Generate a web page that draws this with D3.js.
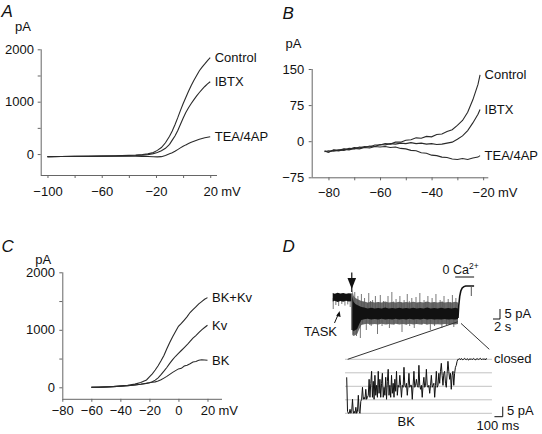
<!DOCTYPE html>
<html><head><meta charset="utf-8">
<script src="https://cdn.jsdelivr.net/npm/d3@7"></script>
<style>
body{margin:0;background:#fff}
svg text{font-family:"Liberation Sans",Arial,Helvetica,sans-serif;fill:#111}
</style>
</head><body>
<svg id="c" width="542" height="434"></svg>
<script>
// ---------------- Panel A data ----------------
const aVoltage = [-100,-90,-80,-70,-60,-50,-40,-35,-30,-26,-22,-19,-16,-13,-10,-8,-6,-4,-2,0,2,4,6,8,10,12,14,16,18,20];
const aControl = [-50,-47,-44,-41,-37,-32,-25,-19,-10,3,30,70,125,215,340,440,560,690,830,960,1080,1200,1310,1410,1500,1590,1660,1720,1785,1840];
const aIBTX    = [-50,-47,-44,-42,-40,-37,-32,-28,-21,-11,8,30,65,110,185,265,345,445,565,685,795,885,965,1040,1110,1175,1235,1290,1340,1380];
const aTEA     = [-50,-48,-46,-44,-42,-41,-40,-41,-44,-48,-52,-54,-50,-28,5,25,52,85,118,148,175,200,225,245,265,282,298,310,320,330];
const aNames = ["Control","IBTX","TEA/4AP"];
const aXTicks = [-100,-80,-60,-40,-20,0,20];
const aXLabels = [-100,-60,-20,20];
const aYTicks = [0,500,1000,1500,2000];
const aYLabels = [0,1000,2000];

// ---------------- Panel B data ----------------
const bVoltage = [-81.5,-80,-78,-76,-74,-72,-70,-68,-66,-64,-62,-60,-58,-56,-54,-52,-50,-48,-46,-44,-42,-40,-38,-36,-34,-32,-30,-28,-26,-24,-22,-21.2];
const bControl = [-20,-23,-18,-19,-16,-17,-13,-14,-11,-12,-8,-8,-5,-6,-2,-2,2,3,7,6,10,9,14,15,20,24,33,43,60,86,118,138];
const bIBTX    = [-22,-20,-21,-18,-19,-15,-16,-12,-13,-10,-11,-7,-8,-5,-6,-4,-5,-3,-5,-4,-6,-5,-7,-6,-4,-2,4,11,22,38,56,66];
const bTEA     = [-21,-23,-19,-20,-17,-18,-15,-16,-13,-14,-11,-12,-11,-13,-12,-15,-16,-19,-20,-24,-25,-29,-30,-33,-34,-37,-38,-36,-38,-35,-33,-30];
const bNames = ["Control","IBTX","TEA/4AP"];
const bXTicks = [-80,-70,-60,-50,-40,-30,-20];
const bXLabels = [-80,-60,-40,-20];
const bYTicks = [-75,0,75,150];
const bYLabels = [-75,0,75,150];

// ---------------- Panel C data ----------------
const cVoltage = [-60,-55,-50,-45,-40,-35,-30,-26,-22,-20,-18,-16,-14,-12,-10,-8,-6,-4,-2,0,2,4,6,8,10,12,14,16,18,20];
const cBKKv = [0,3,8,15,25,35,55,85,127,180,235,300,375,460,555,670,780,880,970,1060,1110,1170,1230,1300,1350,1400,1450,1490,1530,1560];
const cKv   = [0,2,6,11,18,27,40,52,68,80,95,125,165,220,280,345,415,480,540,590,640,690,740,800,855,900,950,1000,1040,1080];
const cBK   = [0,2,6,11,18,27,40,52,70,80,88,95,110,130,160,190,225,260,290,320,330,370,385,410,440,450,470,480,475,470];
const cNames = ["BK+Kv","Kv","BK"];
const cXTicks = [-80,-60,-40,-20,0,20];
const cXLabels = [-80,-60,-40,-20,0,20];
const cYTicks = [0,500,1000,1500,2000];
const cYLabels = [0,1000,2000];

// ---------------- Panel D data (top trace: s, pA) ----------------
const dTaskTime = [0,0.6,1.4,2.2,3.0,3.8,4.6,5.3];
const dTaskHi   = [-3.5,-3.9,-3.4,-3.8,-3.5,-3.9,-3.6,-3.7];
const dTaskLo   = [-7.8,-7.4,-8.0,-7.5,-7.9,-7.4,-7.8,-7.6];
const dTaskSpikes = [[0.15,-11.5],[0.9,-9.5],[1.7,-10],[2.6,-9],[3.5,-9.8],[4.3,-9.2],[5.0,-10.5]];
const dMainTime = [5.6,6.0,6.5,7.0,7.6,8.2,9,10,11,12,13,14,15,16,17,18,19,20,21,22,23,24,25,26,27,28,29,30,31,32,33,34,35,35.8];
const dMainHi = [-5,-8,-9,-9.5,-10,-10.5,-10.8,-11.2,-10.9,-11.3,-11,-11.2,-10.8,-11.3,-11,-11.2,-10.9,-11.3,-11,-11.2,-10.9,-11.3,-11,-11.2,-10.8,-11.3,-11,-11.2,-10.9,-11.3,-11,-11.2,-10.9,-11.2];
const dMainLo = [-22,-22.5,-22,-21.5,-19,-17,-16.6,-16.4,-16.8,-16.5,-16.7,-16.4,-16.8,-16.5,-16.7,-16.4,-16.8,-16.5,-16.7,-16.4,-16.8,-16.5,-16.7,-16.4,-16.8,-16.5,-16.7,-16.6,-16.8,-16.5,-16.7,-16.6,-16.8,-16.5];
const dMainSpikes = [[6.3,-3],[7.2,-5],[8.2,-4],[9.1,-6],[10.3,-3.5],[11.4,-7],[12.2,-5],[13.6,-4.5],[14.5,-7.5],[15.8,-5],[16.9,-3],[18.1,-6.5],[19.2,-5],[20.4,-7],[21.3,-4],[22.6,-6],[23.8,-5.5],[24.9,-3.5],[26.1,-7],[27.2,-5],[28.4,-6],[29.5,-4],[30.7,-7],[31.8,-5],[33.0,-6.5],[34.2,-4.5],[35.2,-6],
  [8.7,-8],[9.9,-8.5],[10.8,-7.5],[13.0,-8],[15.1,-8.5],[17.4,-7.8],[19.7,-8.2],[21.9,-7.6],[24.3,-8.4],[26.6,-7.9],[28.9,-8.3],[31.3,-7.7],[33.6,-8.1],
  [5.9,-24],[6.8,-25],[7.9,-26],[9.6,-22],[11.0,-20],[12.8,-24],[14.1,-20],[16.2,-21],[17.5,-19.5],[19.8,-23],[22.0,-20],[23.3,-21],[25.5,-19.5],[27.9,-22],[29.1,-20],[31.2,-21],[32.5,-19.5],[34.6,-20.5],
  [8.5,-19],[10.6,-19.5],[13.3,-18.8],[15.5,-19.2],[18.6,-18.9],[21.0,-19.4],[24.0,-19],[26.9,-19.3],[30.1,-18.8],[33.3,-19.2]];
const dEndTime = [35.8,36.0,36.3,36.6,37.0,37.5,38.0,40.4];
const dEndCur  = [-16,-10,-5,-2.5,-1,-0.3,0,0];
const dStepTime = 39.6, dStepCur = -5;
const dArrowTime = 5.45;
// bottom trace (ms, pA), sampled every 10 ms
const botSampleMs = 10;
const botCurrent = [-9,-26,-27,
  -27,-25,-27,-26,-20,-27,-26,-27,-24,-27,-26,-18,-26,-27,
  -21,-20,-14,-20,-19,-20,-15,-20,-19,
  -18,-10,-19,-12,-6,-19,-11,-20,-8,-18,-13,-19,-6,-17,-10,-19,-12,-7,-19,-14,-18,-9,-20,-11,-5,-18,-13,-19,-8,-17,-12,-19,-10,-16,-6,-18,
  -13,-14,-8,-13,-19,-13,-14,-4,-13,-14,-12,-18,-13,-7,-14,-13,-13,-20,-13,-6,-14,-13,-10,-13,-14,-3,-13,-15,-13,-19,-13,-9,-14,-13,-5,-13,-14,-13,-17,-13,-8,-14,-13,-12,-19,-13,-6,-14,-13,
  -7,-12,-6,-2,-8,-13,-7,-6,-12,-14,-7,-1,-6,-10,-7,-15,-8,-6,-13,-7,-4,
  -3,-1,0,0,
  0.3,-0.2,0.4,0,-0.3,0.2,0.5,0,-0.2,0.3,0,-0.4,0.2,0,0.3,-0.2,0.1,0.4,0,-0.3,0.2,0,0.3,-0.1,0.2,0.5,0,-0.2,0.3,0,0.2,-0.3,0.4,0];
const botLevels = [0,-6.75,-13.5,-20.25,-27];

// ---------------- drawing ----------------
const svg = d3.select("#c");
const fmt = d => d < 0 ? "\u2212" + Math.abs(d) : String(d);
const AXC = "#666", LC = "#2a2a2a";

function axes(x, y, o) {
  const g = svg.append("g");
  const xa = d3.axisBottom(x).tickValues(o.xTicks).tickSize(3).tickSizeOuter(0).tickPadding(o.xPad)
      .tickFormat(d => o.xLabels.includes(d) ? fmt(d) : "");
  const gx = g.append("g").attr("transform", `translate(0,${y.range()[0]})`).call(xa);
  const ya = d3.axisLeft(y).tickValues(o.yTicks).tickSize(3).tickSizeOuter(0).tickPadding(o.yPad)
      .tickFormat(d => o.yLabels.includes(d) ? fmt(d) : "");
  const gy = g.append("g").attr("transform", `translate(${x.range()[0]},0)`).call(ya);
  [gx, gy].forEach(s => {
    s.attr("font-family", null).attr("font-size", 13);
    s.selectAll("path,line").attr("stroke", AXC).attr("stroke-width", 1);
    s.selectAll("text").attr("fill", "#111");
  });
  gy.select(".domain").attr("d", `M0.5,${y.range()[0]}V${y.range()[1]}`);
  gx.select(".domain").attr("d", `M${x.range()[0]},0.5H${x.range()[1]}`);
  const last = o.xLabels[o.xLabels.length - 1];
  const node = gx.selectAll(".tick text").filter(d => d === last).node();
  const w = node.getComputedTextLength();
  gx.append("text").attr("x", x(last) + w / 2 + 3.8).attr("y", 3 + o.xPad).attr("dy", "0.71em")
    .attr("text-anchor", "start").attr("fill", "#111").text("mV");
  svg.append("text").attr("x", o.pA[0]).attr("y", o.pA[1]).attr("text-anchor", "middle").attr("font-size", 13).text("pA");
  svg.append("text").attr("x", o.letter[0]).attr("y", o.letter[1]).attr("font-size", 17).attr("font-style", "italic").text(o.letterText);
}

function curves(x, y, xs, series, names) {
  const line = d3.line().x((d, i) => x(xs[i])).y(d => y(d));
  series.forEach((s, k) => {
    svg.append("path").attr("d", line(s)).attr("fill", "none").attr("stroke", LC).attr("stroke-width", 1.1);
    svg.append("text").attr("x", x(xs[xs.length - 1]) + 4.5).attr("y", y(s[s.length - 1])).attr("dy", "0.35em")
      .attr("font-size", 13).text(names[k]);
  });
}

// Panel A
const ax = d3.scaleLinear().domain([-105, 25]).range([40.7, 217]);
const ay = d3.scaleLinear().domain([-400, 2000]).range([175, 49.3]);
axes(ax, ay, {xTicks: aXTicks, xLabels: aXLabels, yTicks: aYTicks, yLabels: aYLabels, xPad: 8.8, yPad: 3.7, pA: [23, 31], letter: [1.5, 17], letterText: "A"});
curves(ax, ay, aVoltage, [aControl, aIBTX, aTEA], aNames);

// Panel B
const bx = d3.scaleLinear().domain([-86.5, -18]).range([311.7, 488.3]);
const by = d3.scaleLinear().domain([-75, 150]).range([177.3, 69]);
axes(bx, by, {xTicks: bXTicks, xLabels: bXLabels, yTicks: bYTicks, yLabels: bYLabels, xPad: 7.3, yPad: 4.4, pA: [293.5, 47.5], letter: [282.5, 18.5], letterText: "B"});
curves(bx, by, bVoltage, [bControl, bIBTX, bTEA], bNames);

// Panel C
const cx = d3.scaleLinear().domain([-80, 30]).range([62.3, 222]);
const cy = d3.scaleLinear().domain([-200, 2000]).range([398.8, 272.3]);
axes(cx, cy, {xTicks: cXTicks, xLabels: cXLabels, yTicks: cYTicks, yLabels: cYLabels, xPad: 3.5, yPad: 4.3, pA: [43.3, 263.5], letter: [1.5, 252], letterText: "C"});
curves(cx, cy, cVoltage, [cBKKv, cKv, cBK], cNames);

// Panel D
svg.append("text").attr("x", 282.5).attr("y", 252).attr("font-size", 17).attr("font-style", "italic").text("D");
const tx = d3.scaleLinear().domain([0, 40]).range([332.7, 472.7]);
const ty = d3.scaleLinear().domain([0, -30]).range([286, 346]);
const band = (T, H, L, dh, dl) => d3.area().x((d, i) => tx(T[i])).y0((d, i) => ty(L[i] + dl)).y1((d, i) => ty(H[i] + dh))(T);
dTaskSpikes.forEach(s => svg.append("line").attr("x1", tx(s[0])).attr("x2", tx(s[0])).attr("y1", ty(-6)).attr("y2", ty(s[1])).attr("stroke", "#555").attr("stroke-width", 0.8));
svg.append("path").attr("d", band(dTaskTime, dTaskHi, dTaskLo, 0, 0)).attr("fill", "#111");
svg.append("line").attr("x1", tx(dArrowTime)).attr("x2", tx(dArrowTime)).attr("y1", ty(6.8)).attr("y2", ty(-3)).attr("stroke", "#111").attr("stroke-width", 1.2);
svg.append("path").attr("d", `M${tx(dArrowTime)-4.3},${ty(4)}L${tx(dArrowTime)+4.3},${ty(4)}L${tx(dArrowTime)},${ty(-1.5)}Z`).attr("fill", "#111");
svg.append("line").attr("x1", tx(5.5)).attr("x2", tx(5.5)).attr("y1", ty(-3.7)).attr("y2", ty(-22)).attr("stroke", "#111").attr("stroke-width", 1);
svg.append("path").attr("d", band(dMainTime, dMainHi, dMainLo, 3, -2.5)).attr("fill", "#6a6a6a");
dMainSpikes.forEach(s => svg.append("line").attr("x1", tx(s[0])).attr("x2", tx(s[0])).attr("y1", ty(-14)).attr("y2", ty(s[1])).attr("stroke", "#555").attr("stroke-width", 0.8));
svg.append("path").attr("d", band(dMainTime, dMainHi, dMainLo, 0, 0)).attr("fill", "#111");
const endLine = d3.line().x((d, i) => tx(dEndTime[i])).y(d => ty(d));
svg.append("path").attr("d", endLine(dEndCur)).attr("fill", "none").attr("stroke", "#111").attr("stroke-width", 1.6);
svg.append("line").attr("x1", tx(dStepTime)).attr("x2", tx(dStepTime)).attr("y1", ty(0)).attr("y2", ty(dStepCur)).attr("stroke", "#555").attr("stroke-width", 1);
svg.append("line").attr("x1", tx(35)).attr("x2", tx(40.4)).attr("y1", ty(4.5)).attr("y2", ty(4.5)).attr("stroke", "#111").attr("stroke-width", 1);
const ca = svg.append("text").attr("x", 442.5).attr("y", 273.5).attr("font-size", 12.5);
ca.append("tspan").text("0 Ca");
ca.append("tspan").attr("font-size", 8.5).attr("dy", -5).text("2+");
svg.append("text").attr("x", 304).attr("y", 336).attr("font-size", 13).text("TASK");
svg.append("line").attr("x1", 334.5).attr("y1", 323).attr("x2", 338.8).attr("y2", 313).attr("stroke", "#111").attr("stroke-width", 1);
svg.append("path").attr("d", "M339.6,311 L336.2,315.8 L340.6,317 Z").attr("fill", "#111");
svg.append("path").attr("d", `M${tx(45.8)},${ty(-16.5)}H${tx(47.8)}V${ty(-11.5)}`).attr("fill", "none").attr("stroke", "#111").attr("stroke-width", 1);
svg.append("text").attr("x", 504.5).attr("y", 318).attr("font-size", 13).text("5 pA");
svg.append("text").attr("x", 494).attr("y", 331).attr("font-size", 13).text("2 s");

const bxs = d3.scaleLinear().domain([0, 1700]).range([346.7, 487.8]);
const bys = d3.scaleLinear().domain([0, -30]).range([359.3, 419.3]);
botLevels.forEach(l => svg.append("line").attr("x1", bxs(-20)).attr("x2", bxs(1750)).attr("y1", bys(l)).attr("y2", bys(l)).attr("stroke", "#bbb").attr("stroke-width", 0.9));
svg.append("line").attr("x1", tx(35.7)).attr("y1", ty(-17.9)).attr("x2", bxs(12)).attr("y2", bys(0)).attr("stroke", "#333").attr("stroke-width", 1);
svg.append("line").attr("x1", tx(36.66)).attr("y1", ty(-18.7)).attr("x2", bxs(1718)).attr("y2", bys(5)).attr("stroke", "#333").attr("stroke-width", 1);
const botLine = d3.line().x((d, i) => bxs(i * botSampleMs)).y(d => bys(d));
svg.append("path").attr("d", botLine(botCurrent)).attr("fill", "none").attr("stroke", "#111").attr("stroke-width", 1);
svg.append("text").attr("x", 494).attr("y", 363).attr("font-size", 13).text("closed");
svg.append("text").attr("x", 397.5).attr("y", 426).attr("font-size", 13).text("BK");
svg.append("path").attr("d", `M${bxs(1780)},${bys(-28.7)}H${bxs(1880)}V${bys(-23.7)}`).attr("fill", "none").attr("stroke", "#111").attr("stroke-width", 1);
svg.append("text").attr("x", 507).attr("y", 415).attr("font-size", 13).text("5 pA");
svg.append("text").attr("x", 476.5).attr("y", 429.5).attr("font-size", 13).text("100 ms");
</script>
</body></html>
